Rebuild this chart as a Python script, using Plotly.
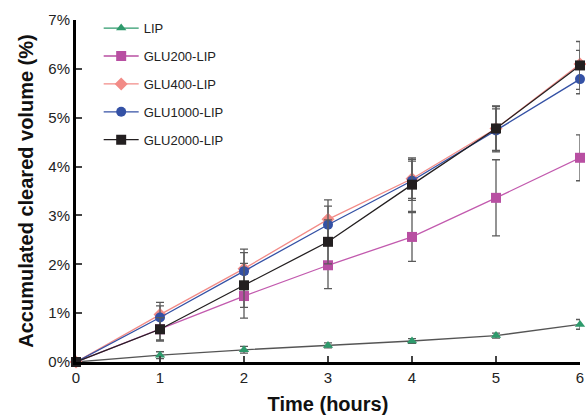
import plotly.graph_objects as go

time = [0, 1, 2, 3, 4, 5, 6]
names = ["LIP", "GLU200-LIP", "GLU400-LIP", "GLU1000-LIP", "GLU2000-LIP"]
lip = [0.0, 0.14, 0.25, 0.34, 0.43, 0.54, 0.77]
lip_err = [0.0, 0.07, 0.07, 0.05, 0.05, 0.05, 0.10]
glu200 = [0.0, 0.67, 1.35, 1.98, 2.56, 3.36, 4.18]
glu200_err = [0.0, 0.22, 0.45, 0.48, 0.50, 0.78, 0.47]
glu400 = [0.0, 0.97, 1.91, 2.92, 3.75, 4.78, 6.10]
glu400_err = [0.0, 0.25, 0.40, 0.40, 0.40, 0.45, 0.28]
glu1000 = [0.0, 0.91, 1.86, 2.81, 3.71, 4.74, 5.79]
glu1000_err = [0.0, 0.24, 0.38, 0.38, 0.40, 0.44, 0.30]
glu2000 = [0.0, 0.67, 1.57, 2.46, 3.63, 4.78, 6.07]
glu2000_err = [0.0, 0.24, 0.45, 0.45, 0.55, 0.46, 0.49]
y_ticks = [0, 1, 2, 3, 4, 5, 6, 7]
y_labels = ["0%", "1%", "2%", "3%", "4%", "5%", "6%", "7%"]

series = [
    (names[0], lip, lip_err, "#2e9a6c", "#555555", "triangle-up", 9),
    (names[1], glu200, glu200_err, "#b84fa2", "#c25aae", "square", 10),
    (names[2], glu400, glu400_err, "#f28b87", "#f28b87", "diamond", 10),
    (names[3], glu1000, glu1000_err, "#3451a5", "#3451a5", "circle", 10),
    (names[4], glu2000, glu2000_err, "#231f20", "#231f20", "square", 10),
]

fig = go.Figure()
for name, vals, errs, mcol, lcol, sym, size in series:
    fig.add_trace(go.Scatter(
        x=time, y=vals, mode="lines+markers", showlegend=False,
        line=dict(color=lcol, width=1.3),
        marker=dict(symbol=sym, size=size, color=mcol),
        error_y=dict(type="data", array=errs, color="#5a5a5a", thickness=1.3, width=4),
        cliponaxis=False,
    ))
for name, vals, errs, mcol, lcol, sym, size in series:
    fig.add_trace(go.Scatter(
        x=[None], y=[None], mode="lines+markers", name=name, legendgroup=name,
        line=dict(color=mcol, width=1.3),
        marker=dict(symbol=sym, size=size, color=mcol),
    ))

fig.update_layout(
    width=586, height=415,
    margin=dict(l=76, r=6, t=20, b=53, autoexpand=False),
    plot_bgcolor="white", paper_bgcolor="white",
    font=dict(family="Liberation Sans, Arial", size=15, color="#222222"),
    showlegend=True,
    legend=dict(x=0.045, y=1.02, xanchor="left", yanchor="top",
                font=dict(size=13, color="#222222"), tracegroupgap=8,
                bgcolor="rgba(0,0,0,0)", itemwidth=35),
    xaxis=dict(range=[0, 6], tickvals=time, ticks="inside", ticklen=6, tickwidth=2,
               showline=True, linecolor="black", linewidth=3, showgrid=False,
               zeroline=False, automargin=False,
               title=dict(text="<b>Time (hours)</b>", font=dict(size=20, color="#111111"), standoff=12)),
    yaxis=dict(range=[0, 7], tickvals=y_ticks, ticktext=y_labels, ticks="inside", ticklen=6,
               tickwidth=2, showline=True, linecolor="black", linewidth=3, showgrid=False,
               zeroline=False, automargin=False,
               title=dict(text="<b>Accumulated cleared volume (%)</b>", font=dict(size=20, color="#111111"), standoff=10)),
)
fig.write_html("out.html", config={"displayModeBar": False},
               post_script="document.body.style.margin='0px';")
